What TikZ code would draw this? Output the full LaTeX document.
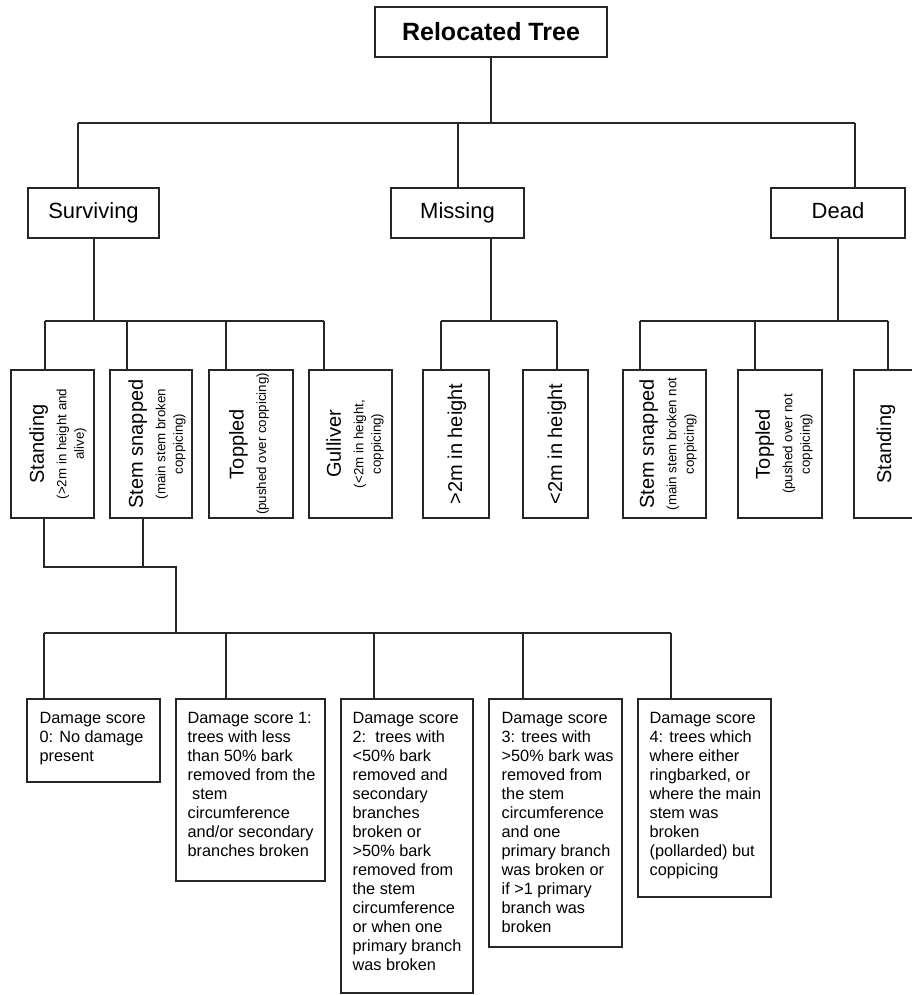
\documentclass[tikz,border=0pt]{standalone}
\usepackage{fontspec}
\setmainfont{Liberation Sans}
\usetikzlibrary{calc}
\begin{document}
\begin{tikzpicture}[x=1pt,y=-1pt,line width=1.3pt,
  rect/.style 2 args={draw=black!85, line width=1.3pt, inner sep=0pt, outer sep=0pt, anchor=north west, minimum width=#1, minimum height=#2},
  conn/.style={draw=black!85, line width=1.3pt},
  lvtwo/.style={font=\fontsize{22}{22}\selectfont, text height=15.8pt, text depth=4.6pt},
  vtext/.style={rotate=90, align=center, inner sep=0pt, font=\fontsize{13.3}{16.5}\selectfont},
  vmain/.style={rotate=90, inner sep=0pt, font=\fontsize{20}{20}\selectfont},
  dtext/.style={anchor=north west, align=left, inner sep=0pt, font=\fontsize{16.3}{19}\selectfont}]
\useasboundingbox (0,0) rectangle (911,995);
\fill[white] (0,0) rectangle (911,995);

% root and level 2
\node[rect={232pt}{50pt}, font=\bfseries\fontsize{25}{25}\selectfont] (root) at (375,7) {Relocated Tree};
\node[rect={131pt}{50pt}, lvtwo] (surv) at (28,188) {Surviving};
\node[rect={133pt}{50pt}, lvtwo] (miss) at (391,188) {Missing};
\node[rect={134pt}{50pt}, lvtwo] (dead) at (771,188) {Dead};

% level 3 boxes
\node[rect={83pt}{148pt}] (s1) at (11,370) {};
\node[rect={82pt}{148pt}] (s2) at (110,370) {};
\node[rect={84pt}{148pt}] (s3) at (209,370) {};
\node[rect={83pt}{148pt}] (s4) at (309,370) {};
\node[rect={66pt}{148pt}] (m1) at (423,370) {};
\node[rect={65pt}{148pt}] (m2) at (523,370) {};
\node[rect={83pt}{148pt}] (d1) at (623,370) {};
\node[rect={84pt}{148pt}] (d2) at (738,370) {};
\node[rect={83pt}{148pt}] (d3) at (854,370) {};

% level 3 texts
\node[vtext] (s1t) at (58,444) {{\fontsize{20}{20}\selectfont Standing}\\[6pt](>2m in height and\\[1pt]alive)};
\node[vtext] (s2t) at (157,444) {{\fontsize{20}{20}\selectfont Stem snapped}\\[6pt](main stem broken\\[1pt]coppicing)};
\node[vtext] (s3t) at (249,444) {{\fontsize{20}{20}\selectfont Toppled}\\[6pt](pushed over coppicing)};
\node[vtext] (s4t) at (355,444) {{\fontsize{20}{20}\selectfont Gulliver}\\[6pt](<2m in height,\\[1pt]coppicing)};
\node[vmain] (m1t) at (457,444) {>2m in height};
\node[vmain] (m2t) at (557,444) {<2m in height};
\node[vtext] (d1t) at (668,444) {{\fontsize{20}{20}\selectfont Stem snapped}\\[6pt](main stem broken not\\[1pt]coppicing)};
\node[vtext] (d2t) at (784,444) {{\fontsize{20}{20}\selectfont Toppled}\\[6pt](pushed over not\\[1pt]coppicing)};
\node[vmain] (d3t) at (886,444) {Standing};

% bottom boxes
\node[rect={133pt}{83pt}] (b0) at (27,699) {};
\node[rect={149pt}{182pt}] (b1) at (176,699) {};
\node[rect={132pt}{294pt}] (b2) at (341,699) {};
\node[rect={133pt}{248pt}] (b3) at (489,699) {};
\node[rect={133pt}{198pt}] (b4) at (638,699) {};

\node[dtext] (b0t) at ($(b0.north west)+(12,13)$) {Damage score\\0: No damage\\present};
\node[dtext] (b1t) at ($(b1.north west)+(11,13)$) {Damage score 1:\\trees with less\\than 50\% bark\\removed from the\\\ stem\\circumference\\and/or secondary\\branches broken};
\node[dtext] (b2t) at ($(b2.north west)+(11,13)$) {Damage score\\2:\ \ trees with\\<50\% bark\\removed and\\secondary\\branches\\broken or\\>50\% bark\\removed from\\the stem\\circumference\\or when one\\primary branch\\was broken};
\node[dtext] (b3t) at ($(b3.north west)+(12,13)$) {Damage score\\3: trees with\\>50\% bark was\\removed from\\the stem\\circumference\\and one\\primary branch\\was broken or\\if >1 primary\\branch was\\broken};
\node[dtext] (b4t) at ($(b4.north west)+(11,13)$) {Damage score\\4: trees which\\where either\\ringbarked, or\\where the main\\stem was\\broken\\(pollarded) but\\coppicing};

% junction coordinates
\coordinate (ja) at (491,123);
\coordinate (jsurv) at (78,123);
\coordinate (jmiss) at (458,123);
\coordinate (jdead) at (855,123);
\coordinate (ks0) at (94,321);
\coordinate (ks1) at (45,321);
\coordinate (ks2) at (127,321);
\coordinate (ks3) at (226,321);
\coordinate (ks4) at (324,321);
\coordinate (km0) at (491,321);
\coordinate (km1) at (441,321);
\coordinate (km2) at (557,321);
\coordinate (kd0) at (838,321);
\coordinate (kd1) at (640,321);
\coordinate (kd2) at (755,321);
\coordinate (kd3) at (888,321);
\coordinate (l1) at (44,567);
\coordinate (l2) at (143,567);
\coordinate (l3) at (176,567);
\coordinate (l4) at (176,633);
\coordinate (n0) at (44,633);
\coordinate (n1) at (226,633);
\coordinate (n2) at (374,633);
\coordinate (n3) at (523,633);
\coordinate (n4) at (671,633);

% connectors top
\draw[conn] (root.south -| ja) -- (ja);
\draw[conn] (jsurv) -- (jdead);
\draw[conn] (jsurv) -- (jsurv |- surv.north);
\draw[conn] (jmiss) -- (jmiss |- miss.north);
\draw[conn] (jdead) -- (jdead |- dead.north);

% level 2 -> 3
\draw[conn] (ks0 |- surv.south) -- (ks0);
\draw[conn] (ks1) -- (ks4);
\draw[conn] (ks1) -- (ks1 |- s1.north);
\draw[conn] (ks2) -- (ks2 |- s2.north);
\draw[conn] (ks3) -- (ks3 |- s3.north);
\draw[conn] (ks4) -- (ks4 |- s4.north);
\draw[conn] (km0 |- miss.south) -- (km0);
\draw[conn] (km1) -- (km2);
\draw[conn] (km1) -- (km1 |- m1.north);
\draw[conn] (km2) -- (km2 |- m2.north);
\draw[conn] (kd0 |- dead.south) -- (kd0);
\draw[conn] (kd1) -- (kd3);
\draw[conn] (kd1) -- (kd1 |- d1.north);
\draw[conn] (kd2) -- (kd2 |- d2.north);
\draw[conn] (kd3) -- (kd3 |- d3.north);

% level 3 -> damage scores
\draw[conn] (l1 |- s1.south) -- (l1) -- (l3) -- (l4);
\draw[conn] (l2 |- s2.south) -- (l2);
\draw[conn] (n0) -- (n4);
\draw[conn] (n0) -- (n0 |- b0.north);
\draw[conn] (n1) -- (n1 |- b1.north);
\draw[conn] (n2) -- (n2 |- b2.north);
\draw[conn] (n3) -- (n3 |- b3.north);
\draw[conn] (n4) -- (n4 |- b4.north);
\end{tikzpicture}
\end{document}
